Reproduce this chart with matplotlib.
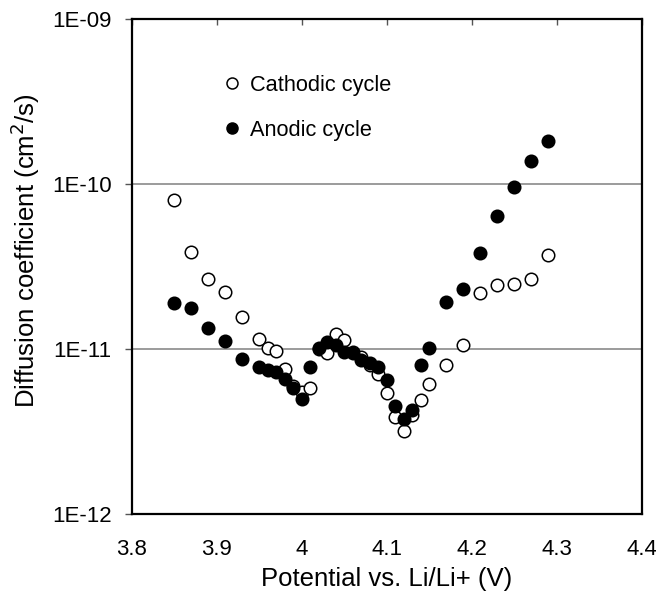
import matplotlib
matplotlib.use('Agg')
import matplotlib.pyplot as plt
from matplotlib.ticker import FixedLocator, NullLocator

plt.rcParams['font.family'] = ['Liberation Sans', 'DejaVu Sans']

# potential (V vs. Li/Li+) and diffusion coefficient (cm2/s)
potential = [3.85, 3.87, 3.89, 3.91, 3.93,
             3.95, 3.96, 3.97, 3.98, 3.99, 4.00, 4.01, 4.02, 4.03, 4.04,
             4.05, 4.06, 4.07, 4.08, 4.09, 4.10, 4.11, 4.12, 4.13, 4.14,
             4.15, 4.17, 4.19, 4.21, 4.23, 4.25, 4.27, 4.29]

d_cathodic = [8.0e-11, 3.85e-11, 2.67e-11, 2.22e-11, 1.56e-11,
              1.15e-11, 1.01e-11, 9.7e-12, 7.6e-12, 6.0e-12, 5.5e-12, 5.8e-12,
              1.0e-11, 9.4e-12, 1.23e-11,
              1.13e-11, 9.6e-12, 8.9e-12, 8.0e-12, 7.0e-12, 5.4e-12, 3.87e-12,
              3.2e-12, 4.0e-12, 4.9e-12,
              6.15e-12, 7.96e-12, 1.05e-11, 2.19e-11, 2.44e-11, 2.46e-11,
              2.67e-11, 3.73e-11]

d_anodic = [1.9e-11, 1.78e-11, 1.34e-11, 1.11e-11, 8.7e-12,
            7.8e-12, 7.5e-12, 7.2e-12, 6.6e-12, 5.8e-12, 5.0e-12, 7.8e-12,
            1.01e-11, 1.1e-11, 1.05e-11,
            9.6e-12, 9.4e-12, 8.6e-12, 8.2e-12, 7.8e-12, 6.5e-12, 4.5e-12,
            3.75e-12, 4.27e-12, 8.0e-12,
            1.02e-11, 1.93e-11, 2.32e-11, 3.79e-11, 6.36e-11, 9.6e-11,
            1.38e-10, 1.82e-10]

y_ticks = [1e-12, 1e-11, 1e-10, 1e-9]
y_labels = ['1E-12', '1E-11', '1E-10', '1E-09']
x_ticks = [3.8, 3.9, 4.0, 4.1, 4.2, 4.3, 4.4]
x_labels = ['3.8', '3.9', '4', '4.1', '4.2', '4.3', '4.4']

fig = plt.figure(figsize=(6.56, 5.98), dpi=100)
ax = fig.add_axes([0.201, 0.1405, 0.777, 0.828])

ax.set_yscale('log')
ax.set_xlim(3.8, 4.4)
ax.set_ylim(1e-12, 1e-9)

ax.yaxis.set_major_locator(FixedLocator(y_ticks))
ax.yaxis.set_minor_locator(NullLocator())
ax.set_yticklabels(y_labels)
ax.set_xticks(x_ticks)
ax.set_xticklabels(x_labels)

# horizontal grid at the inner decades only
for v in y_ticks[1:-1]:
    ax.axhline(v, color='#8a8a8a', lw=1.2, zorder=0)

ax.plot(potential, d_cathodic, 'o', ms=9.0, mfc='white', mec='black',
        mew=1.1, zorder=3, label='Cathodic cycle')
ax.plot(potential, d_anodic, 'o', ms=9.0, mfc='black', mec='black',
        mew=1.1, zorder=4, label='Anodic cycle')

for s in ax.spines.values():
    s.set_linewidth(1.6)
    s.set_color('black')

ax.tick_params(axis='x', direction='in', top=True, bottom=False,
               labelbottom=True, length=4, width=1, color='#555555',
               labelsize=16, pad=18)
ax.tick_params(axis='y', direction='out', length=5, width=1,
               color='#555555', labelsize=16, pad=9.5)

ax.set_xlabel('Potential vs. Li/Li+ (V)', fontsize=18.5)
ax.xaxis.set_label_coords(0.5, -0.108)
ax.set_ylabel('Diffusion coefficient (cm$^2$/s)', fontsize=18.5)
ax.yaxis.set_label_coords(-0.176, 0.531)

ax.legend(loc='upper left', bbox_to_anchor=(0.137, 0.927), frameon=False,
          fontsize=15.7, handletextpad=0.3, labelspacing=1.12,
          handlelength=1.0, markerscale=0.88)

fig.savefig('out.png', dpi=100)
